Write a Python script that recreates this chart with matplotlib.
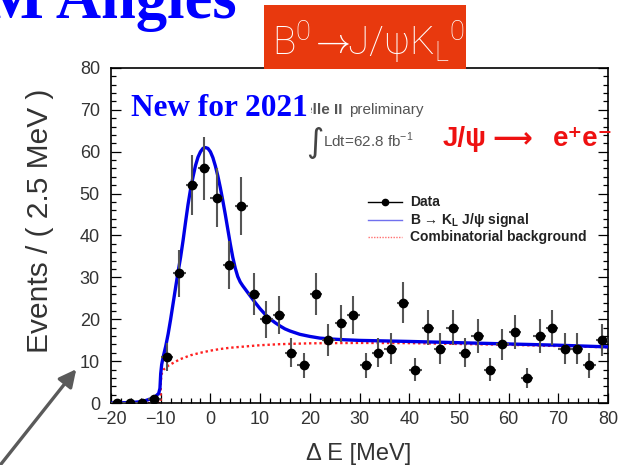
import matplotlib
matplotlib.use('Agg')
import matplotlib.pyplot as plt
import numpy as np
from matplotlib.lines import Line2D
from matplotlib.patches import Rectangle
from matplotlib.ticker import MultipleLocator

plt.rcParams['font.family'] = ['Liberation Sans', 'DejaVu Sans']
plt.rcParams['mathtext.fontset'] = 'custom'
plt.rcParams['mathtext.rm'] = 'Liberation Sans'

W, H = 625, 465

# Delta E histogram, 2.5 MeV bins from -20 to 80 MeV
bin_lo, bin_hi, bin_w = -20.0, 80.0, 2.5
counts = [0, 0, 0, 1, 11, 31, 52, 56, 49, 33,
          47, 26, 20, 21, 12, 9, 26, 15, 19, 21,
          9, 12, 13, 24, 8, 18, 13, 18, 12, 16,
          8, 14, 17, 6, 16, 18, 13, 13, 9, 15]

# total fit (signal + background)
fit_x = [-20, -16, -14, -13, -12, -11, -10.4, -10.15, -10.0, -9.8,
         -9.5, -9.0, -8.5, -8.0, -7.5, -7.0, -6.5, -6.0, -5.5, -5.0,
         -4.5, -4.0, -3.5, -3.0, -2.5, -2.0, -1.5, -1.0, -0.5, 0.0,
         0.5, 1.0, 1.5, 2.0, 2.5, 3.0, 3.5, 4.0, 4.5, 5.0,
         5.5, 6.0, 6.5, 7.0, 8.0, 9.0, 10.0, 11.0, 12.0, 13.0,
         14.0, 15.0, 16.0, 18.0, 20.0, 22.0, 24.0, 27.0, 30.0, 40.0,
         50.0, 60.0, 70.0, 80.0]
fit_y = [0.0, 0.1, 0.3, 0.6, 1.0, 1.6, 2.3, 3.5, 7.0, 9.2,
         11.0, 13.5, 16.5, 20.0, 23.8, 27.6, 31.3, 34.8, 38.8, 43.2,
         47.4, 51.0, 54.0, 56.7, 58.7, 60.0, 60.8, 61.0, 60.8, 60.0,
         58.6, 56.6, 54.2, 51.4, 48.3, 45.0, 41.5, 38.0, 34.8, 32.2,
         30.2, 28.9, 28.0, 27.2, 25.6, 24.0, 22.5, 21.2, 20.1, 19.2,
         18.4, 17.7, 17.2, 16.4, 15.9, 15.5, 15.3, 15.1, 14.95, 14.7,
         14.4, 14.1, 13.8, 13.4]

# combinatorial background component
bkg_x = [-20, -10.0, -10.0, -9.8, -9.5, -8.5, -7.0, -6.0, -4.0, -2.0,
         0.0, 2.0, 4.0, 6.0, 10.0, 14.0, 20.0, 30.0, 40.0, 50.0,
         60.0, 70.0, 80.0]
bkg_y = [0.0, 0.0, 5.0, 7.0, 7.9, 8.9, 9.9, 10.5, 11.4, 12.0,
         12.5, 12.9, 13.2, 13.4, 13.8, 14.05, 14.25, 14.35, 14.3, 14.1,
         13.9, 13.6, 13.3]

xticks = [-20, -10, 0, 10, 20, 30, 40, 50, 60, 70, 80]
yticks = [0, 10, 20, 30, 40, 50, 60, 70, 80]


def fx(px):
    return px / W


def fy(py):
    return 1 - py / H


fig = plt.figure(figsize=(W / 100, H / 100), dpi=100)
ax = fig.add_axes([fx(111), fy(403), (608 - 111) / W, (403 - 68) / H])

centers = np.arange(bin_lo + bin_w / 2, bin_hi, bin_w)
counts = np.array(counts, dtype=float)

ax.plot(bkg_x, bkg_y, color='#ff2020', lw=1.7, ls=(0, (1, 1.2)), zorder=2)
ax.plot(fit_x, fit_y, color='#0000e6', lw=2.4, zorder=3)
ax.errorbar(centers, counts, yerr=np.sqrt(counts), xerr=bin_w / 2,
            fmt='o', color='black', ecolor='#555555', elinewidth=1.5,
            markersize=6, capsize=0, zorder=4)

ax.set_xlim(bin_lo, bin_hi)
ax.set_ylim(0, 80)
ax.set_xticks(xticks)
ax.set_yticks(yticks)
ax.xaxis.set_minor_locator(MultipleLocator(2))
ax.yaxis.set_minor_locator(MultipleLocator(2))
ax.tick_params(which='both', direction='in', top=False, right=True,
               width=0.9, colors='black', labelcolor='#333333',
               labelsize=13)
ax.tick_params(which='major', length=7.2)
ax.tick_params(which='minor', length=3.6)
ax.tick_params(axis='x', pad=6)
ax.tick_params(axis='y', pad=8)
for s in ax.spines.values():
    s.set_linewidth(1.2)

# axis titles
fig.text(fx(40), fy(221), 'Events / ( 2.5 MeV )', rotation=90,
         ha='center', va='center', fontsize=21.5, color='#333333')
fig.text(fx(359), fy(454), '\u0394 E [MeV]', ha='center', va='center',
         fontsize=17, color='#333333')

# legend
leg_rows = [202, 220, 237]
fig.add_artist(Line2D([fx(368), fx(402)], [fy(leg_rows[0])] * 2,
                      color='black', lw=1.0))
fig.add_artist(Line2D([fx(385)], [fy(leg_rows[0])], marker='o',
                      color='black', markersize=4.5))
fig.add_artist(Line2D([fx(368), fx(402)], [fy(leg_rows[1])] * 2,
                      color='#7070ee', lw=1.0))
fig.add_artist(Line2D([fx(368), fx(402)], [fy(leg_rows[2])] * 2,
                      color='#ff7070', lw=1.0, ls=(0, (1, 1))))
leg_labels = ['Data', 'B \u2192 K$_\\mathregular{L}$ J/\u03c8 signal',
              'Combinatorial background']
for row, lab in zip(leg_rows, leg_labels):
    fig.text(fx(410), fy(row), lab, ha='left', va='center', fontsize=10,
             weight='bold', color='#222222')

# Belle II label and luminosity
fig.text(fx(293), fy(110), 'Belle II', ha='left', va='center',
         fontsize=11, weight='bold', color='#555555')
fig.text(fx(349), fy(110), 'preliminary', ha='left', va='center',
         fontsize=11, color='#555555')
fig.text(fx(306), fy(142), '\u222b', ha='left', va='center',
         fontsize=24, color='#444444', family='DejaVu Sans')
fig.text(fx(323), fy(140), 'Ldt=62.8 fb$^{-1}$', ha='left', va='center',
         fontsize=11, color='#555555')

fig.text(fx(131), fy(108), 'New for 2021', ha='left', va='center',
         fontsize=22.5, weight='bold', color='#0000ff',
         family='Liberation Serif',
         bbox=dict(facecolor='white', edgecolor='none', pad=2))

# J/psi -> e+ e- channel tag
red = '#ee1111'
fig.text(fx(443), fy(139), 'J/\u03c8', ha='left', va='center',
         fontsize=20, weight='bold', color=red)
fig.text(fx(492), fy(139), '\u27f6', ha='left', va='center',
         fontsize=20, weight='bold', color=red, family='DejaVu Sans')
fig.text(fx(553), fy(139), 'e\u207ae\u207b', ha='left', va='center',
         fontsize=20, weight='bold', color=red)

# slide heading and decay banner
fig.text(fx(237), fy(18), 'CKM Angles', ha='right', va='baseline',
         fontsize=45, weight='bold', color='#0000ff',
         family='Liberation Serif')
fig.add_artist(Rectangle((fx(264), fy(69)), (466 - 264) / W, (69 - 5) / H,
                         transform=fig.transFigure, facecolor='#e8390e',
                         edgecolor='none'))
banner = dict(color='white', va='baseline')
fig.text(fx(311), fy(56), 'B$^\\mathregular{0}$', ha='right', fontsize=28,
         family='Roboto', weight='light', **banner)
fig.text(fx(329), fy(52), '$\\rightarrow$', ha='center', fontsize=25,
         math_fontfamily='cm', **banner)
fig.text(fx(347), fy(56),
         'J/\u03c8K$_\\mathregular{L}$$^\\mathregular{0}$', ha='left',
         fontsize=28, family='Roboto', weight='light', **banner)

# pointer arrow
ax.annotate('', xy=(78, H - 367), xycoords='figure pixels',
            xytext=(-10, H - 478), textcoords='figure pixels',
            arrowprops=dict(arrowstyle='-|>', color='#5a5a5a', lw=2.4,
                            mutation_scale=26),
            annotation_clip=False)

fig.savefig('out.png', dpi=100)
